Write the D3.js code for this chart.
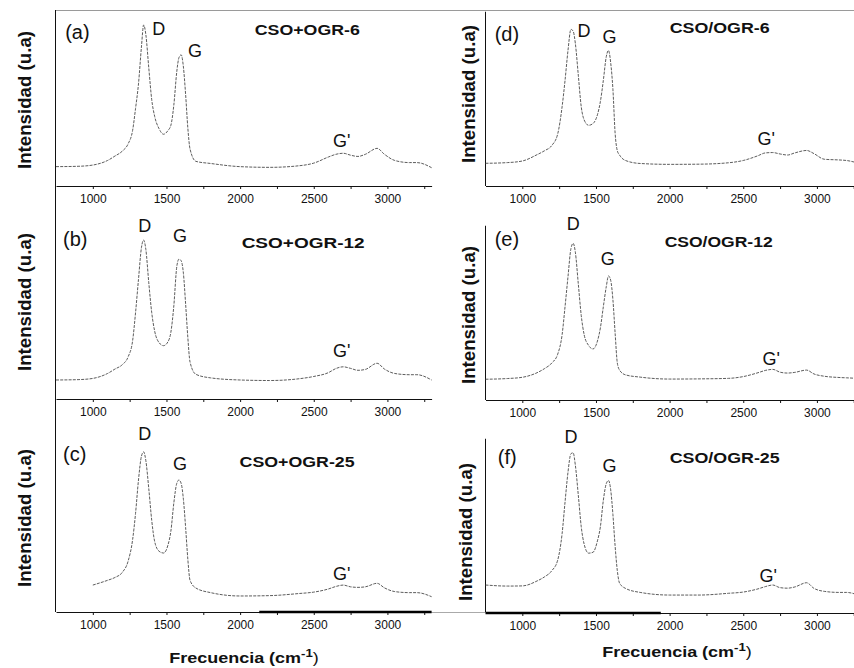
<!DOCTYPE html>
<html lang="es">
<head>
<meta charset="UTF-8">
<title>Espectros Raman CSO+OGR / CSO/OGR</title>
<script src="https://d3js.org/d3.v7.min.js"></script>
<style>
  body { margin: 0; background: #fff; }
  svg { display: block; font-family: "Liberation Sans", Arial, sans-serif; }
  /* trazo del espectro */
  .espectro { fill: none; stroke: #4a4a4a; stroke-width: 0.9; stroke-dasharray: 3 1.2; }
  .eje path, .eje line { stroke: #111; }
  .eje text { font-size: 12px; fill: #111; font-family: "Liberation Sans", Arial, sans-serif; }
  .tag { font-size: 20px; fill: #111; }
  .pico { font-size: 18px; fill: #111; }
  .muestra { font-size: 14px; font-weight: bold; fill: #111; }
  .titulo { font-weight: bold; fill: #111; }
</style>
</head>
<body>
<script>
// numero de onda (cm-1), comun a los seis espectros
const frecuencia = [750, 900, 1000, 1100, 1150, 1200, 1240, 1270, 1290, 1310, 1330, 1345, 1360, 1380, 1400,
  1420, 1450, 1480, 1510, 1530, 1550, 1570, 1585, 1600, 1615, 1630, 1645, 1660, 1700, 1800, 2000, 2200,
  2400, 2500, 2600, 2650, 2700, 2750, 2800, 2850, 2930, 2980, 3050, 3150, 3200, 3300];

const mezcla6 = [11.0, 11.2, 11.9, 14.5, 17.0, 19.8, 24, 31.5, 44, 58, 79, 91.5, 86, 67, 49,
  39.5, 32.5, 29.4, 31.5, 34.5, 46, 65, 73, 74.5, 67.6, 52, 33, 21, 14, 12.8, 11, 10.6,
  11.5, 13, 16.5, 18, 18.6, 17.5, 16.8, 18, 21.4, 18, 14.5, 13.3, 13.3, 10.4];
const mezcla12 = [10.8, 11.0, 11.7, 14.5, 17, 19.5, 24, 33, 49, 68, 86, 90.3, 85, 66, 49,
  38.5, 32, 30.3, 32.5, 38, 53, 75.2, 79.5, 78.5, 71.4, 54, 35, 21, 14, 12, 10.8, 10.5,
  11.5, 12.8, 15, 17.3, 18.3, 17.4, 16.3, 16.8, 20.3, 17, 14.5, 13.8, 13.8, 10.8];
const mezcla25 = [null, null, 15.3, 18, 19.6, 22.5, 29, 41, 56, 75, 88.5, 91, 86, 70, 52,
  40, 34.5, 33.5, 38, 46, 62, 73.1, 75, 73, 64, 48, 30, 18, 13.6, 11, 9.1, 9.3,
  10.5, 11.3, 13.1, 14.5, 15.3, 14.3, 14, 14.3, 16.3, 13.7, 11.6, 11, 11, 8.7];
const capa6 = [12.9, 13.3, 14.2, 17.8, 20, 23, 29.5, 45, 60, 77, 89, 88, 81, 63, 45,
  37.5, 34.5, 35.5, 40.5, 48, 60, 73.5, 77, 70, 55, 30, 20, 17.6, 14.5, 12.8, 12.3, 12.4,
  13.2, 14.5, 17.2, 18.8, 19, 18.2, 17.6, 18.8, 20.2, 18.4, 15.2, 14.8, 14.5, 12.5];
const capa12 = [11.8, 12.2, 12.9, 15.5, 17.8, 21, 26, 37, 53, 70, 86, 89, 84, 66, 48,
  37, 31, 29, 33.5, 41, 53, 64.4, 70.5, 68, 57, 38, 21, 17, 14.3, 13, 11.9, 12,
  12.3, 13.3, 15.5, 16.8, 17.4, 15.8, 15.3, 15.7, 17, 14.8, 13.5, 12.8, 12.6, 12.2];
const capa25 = [15.9, 15.3, 15.4, 18.2, 20.5, 24, 30, 45, 63, 80, 90.5, 91, 84, 67, 49,
  39, 34, 34.5, 41, 49, 64, 73.5, 75.3, 70, 56, 38, 24, 17, 14, 11.7, 10.2, 10.2,
  11.2, 11.9, 13.7, 15, 15.9, 14.4, 14.1, 14.8, 17.2, 14, 12.3, 11.7, 11.7, 9.5];

const ticksMayores = [1000, 1500, 2000, 2500, 3000];
const ticksMenores = [1250, 1750, 2250, 2750, 3250];

// etiquetas: [texto, frecuencia, intensidad] (esquina inferior izquierda; muestra centrada)
const paneles = [
  { datos: mezcla6,  col: 0, ejeY: 186, tag: ["(a)", 812, 83.5], muestra: ["CSO+OGR-6", 2456, 85.8, 105],
    d: [1403, 85.8], g: [1647, 73.3], g2: [2631, 22.2] },
  { datos: mezcla12, col: 0, ejeY: 399, tag: ["(b)", 798, 86.9], muestra: ["CSO+OGR-12", 2428, 85.8, 123],
    d: [1308, 94.9], g: [1545, 89.2], g2: [2631, 23.9] },
  { datos: mezcla25, col: 0, ejeY: 612, tag: ["(c)", 798, 85.8], muestra: ["CSO+OGR-25", 2387, 82.4, 115],
    d: [1308, 97.7], g: [1545, 80.7], g2: [2631, 18.2] },
  { datos: capa6,    col: 1, ejeY: 186, tag: ["(d)", 812, 82.4], muestra: ["CSO/OGR-6", 2340, 86.9, 100],
    d: [1375, 84.7], g: [1545, 81.3], g2: [2597, 23.3] },
  { datos: capa12,   col: 1, ejeY: 400, tag: ["(e)", 812, 87.5], muestra: ["CSO/OGR-12", 2333, 86.9, 108],
    d: [1301, 96.6], g: [1532, 76.7], g2: [2631, 19.9] },
  { datos: capa25,   col: 1, ejeY: 613, tag: ["(f)", 833, 84.7], muestra: ["CSO/OGR-25", 2374, 85.2, 110],
    d: [1287, 96.6], g: [1545, 80.1], g2: [2611, 17.6] }
];

const width = 854, height = 668;
const svg = d3.select("body").append("svg").attr("width", width).attr("height", height);

// una escala x por columna
const xCol = [
  d3.scaleLinear().domain([750, 3300]).range([56, 431.6]),
  d3.scaleLinear().domain([750, 3300]).range([485.5, 861.1])
];
const yDe = p => d3.scaleLinear().domain([0, 100]).range([p.ejeY, p.ejeY - 176]);

// linea gris superior
svg.append("line")
  .attr("x1", 55.5).attr("x2", width).attr("y1", 10.5).attr("y2", 10.5)
  .attr("stroke", "#9a9a9a").attr("stroke-width", 1);

paneles.forEach(p => {
  const x = xCol[p.col], y = yDe(p);
  const g = svg.append("g");

  // eje y (solo la linea)
  if (p.col === 1) {
    g.append("line").attr("x1", x.range()[0]).attr("x2", x.range()[0])
      .attr("y1", y(0)).attr("y2", y(99)).attr("stroke", "#111");
  }

  // eje x
  g.append("g").attr("class", "eje").attr("transform", `translate(0,${y(0)})`)
    .call(d3.axisBottom(x).tickValues(ticksMayores).tickFormat(d3.format("d"))
      .tickSize(3).tickPadding(5).tickSizeOuter(0));
  g.append("g").attr("class", "eje").attr("transform", `translate(0,${y(0)})`)
    .call(d3.axisBottom(x).tickValues(ticksMenores).tickSize(3).tickFormat(""))
    .select(".domain").remove();

  // espectro
  const linea = d3.line()
    .defined(d => d[1] != null)
    .x(d => x(d[0])).y(d => y(d[1]))
    .curve(d3.curveMonotoneX);
  g.append("path").attr("class", "espectro")
    .attr("d", linea(frecuencia.map((f, i) => [f, p.datos[i]])));

  // etiquetas
  g.append("text").attr("class", "tag").attr("x", x(p.tag[1])).attr("y", y(p.tag[2])).text(p.tag[0]);
  g.append("text").attr("class", "pico").attr("x", x(p.d[0])).attr("y", y(p.d[1])).text("D");
  g.append("text").attr("class", "pico").attr("x", x(p.g[0])).attr("y", y(p.g[1])).text("G");
  g.append("text").attr("class", "pico").attr("x", x(p.g2[0])).attr("y", y(p.g2[1])).text("G'");
  g.append("text").attr("class", "muestra").attr("text-anchor", "middle")
    .attr("x", x(p.muestra[1])).attr("y", y(p.muestra[2]))
    .attr("textLength", p.muestra[3]).attr("lengthAdjust", "spacingAndGlyphs")
    .text(p.muestra[0]);
});

// eje y continuo de la columna izquierda
const ya = yDe(paneles[0]), yc = yDe(paneles[2]);
svg.append("line").attr("x1", 55.5).attr("x2", 55.5)
  .attr("y1", ya(100)).attr("y2", yc(0)).attr("stroke", "#111");

// trazos gruesos que tiene la figura original sobre los ejes inferiores
svg.append("line").attr("x1", xCol[0](2130)).attr("x2", xCol[0](3300))
  .attr("y1", yc(0)).attr("y2", yc(0)).attr("stroke", "#000").attr("stroke-width", 2.4);
const yf = yDe(paneles[5]);
svg.append("line").attr("x1", xCol[1](750)).attr("x2", xCol[1](1940))
  .attr("y1", yf(0)).attr("y2", yf(0)).attr("stroke", "#000").attr("stroke-width", 2.4);
svg.append("line").attr("x1", xCol[0].range()[1]).attr("x2", xCol[1].range()[0])
  .attr("y1", 612.5).attr("y2", 612.5).attr("stroke", "#aaa");

// titulos de eje y
const titulosY = [[25, 100], [25, 302], [25, 518], [469, 94], [469, 315], [466, 532]];
titulosY.forEach(([cx, cy]) => {
  svg.append("text").attr("class", "titulo")
    .attr("transform", `translate(${cx + 6},${cy}) rotate(-90)`)
    .attr("text-anchor", "middle").attr("font-size", 18)
    .attr("textLength", 138).attr("lengthAdjust", "spacingAndGlyphs")
    .text("Intensidad (u.a)");
});

// titulos de eje x
[[244, 663], [677, 657]].forEach(([cx, by]) => {
  const t = svg.append("text").attr("class", "titulo")
    .attr("transform", `translate(${cx},${by}) scale(1.2,1)`)
    .attr("text-anchor", "middle").attr("font-size", 15);
  t.append("tspan").text("Frecuencia (cm");
  t.append("tspan").attr("font-size", 11).attr("dy", -6).text("-1");
  t.append("tspan").attr("dy", 6).attr("font-weight", "normal").text(")");
});
</script>
</body>
</html>
